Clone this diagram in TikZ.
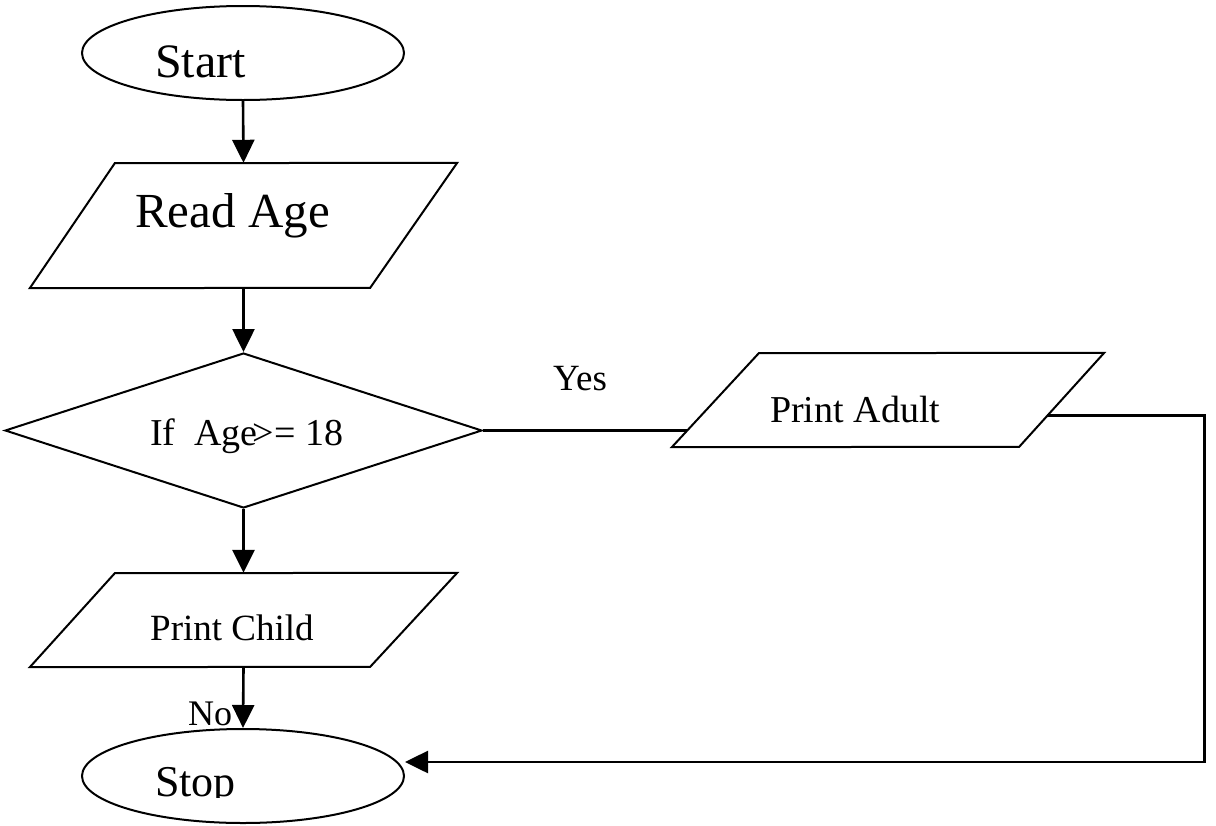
\documentclass[tikz,border=0pt]{standalone}
\usepackage{fontspec}
\setmainfont{Liberation Serif}
\usetikzlibrary{shapes.geometric,arrows.meta,calc}
\begin{document}
\begin{tikzpicture}[x=1pt,y=-1pt,
  outline/.style={draw=black,line width=2pt},
  term/.style={ellipse,outline,minimum width=322pt,minimum height=94pt,inner sep=0pt},
  decide/.style={diamond,outline,minimum width=477pt,minimum height=155pt,inner sep=0pt},
  iobox/.style={rectangle,inner sep=0pt},
  conn/.style={draw=black,line width=2.6pt},
  arr/.style={conn,-{Triangle[length=23pt,width=22pt]}},
  lbl/.style={anchor=base west,inner sep=0pt,text=black},
]
\useasboundingbox (0,0) rectangle (1216,825);
\fill[white] (0,0) rectangle (1216,825);

% shapes
\node[term] (start) at (243,53) {};
\node[iobox,minimum width=427pt,minimum height=125pt] (read) at (243.5,225.5) {};
\draw[outline,line join=miter] (read.south west) -- ++(85,-125) coordinate (readTL) -- (read.north east) -- ++(-87,125) coordinate (readBR) -- cycle;
\node[decide] (dec) at (243.5,430.5) {};
\node[iobox,minimum width=427pt,minimum height=94pt] (child) at (243.5,620) {};
\draw[outline,line join=miter] (child.south west) -- ++(85,-94) coordinate (childTL) -- (child.north east) -- ++(-87,94) coordinate (childBR) -- cycle;
\node[iobox,minimum width=432pt,minimum height=94pt] (adult) at (888,400) {};
\draw[outline,line join=miter] (adult.south west) -- ++(87,-94) coordinate (adultTL) -- (adult.north east) -- ++(-85,94) coordinate (adultBR) -- cycle;
\node[term] (stop) at (243,776) {};

% texts
\node[lbl,font=\fontsize{48}{48}\selectfont] (tstart) at (155,77) {Start};
\node[lbl,font=\fontsize{49}{49}\selectfont] (tread) at (135,227) {Read Age};
\node[lbl,font=\fontsize{38}{38}\selectfont] (tdec) at (150,445) {If\ \ Age\kern-5pt>= 18};
\node[lbl,font=\fontsize{37}{37}\selectfont] (tchild) at (150,640) {Print Child};
\node[lbl,font=\fontsize{38}{38}\selectfont] (tadult) at (770,422) {Print Adult};
\node[lbl,font=\fontsize{37}{37}\selectfont] (tyes) at (553,390) {Yes};
\node[lbl,font=\fontsize{36}{36}\selectfont] (tno) at (188,725) {No};
\begin{scope}
\clip (0,0) rectangle (1216,797);
\node[lbl,font=\fontsize{44}{44}\selectfont] (tstop) at (155,796) {Stop};
\end{scope}

% connection points
\coordinate (yesend) at ($(adult.south west)!0.176!(adultTL)$);
\coordinate (adultR) at ($(adultBR)!0.33!(adult.north east)$);
\coordinate (stopin) at ($(stop.east)+(0,-14)$);

% connectors
\draw[arr] (start.south) -- (read.north);
\draw[arr] (read.south) -- (dec.north);
\draw[arr] (dec.south) -- (child.north);
\draw[arr] (child.south) -- (stop.north);
\draw[conn] (dec.east) -- (dec.east -| yesend);
\draw[arr] (adultR) -- ++(157,0) |- (stopin);
\end{tikzpicture}
\end{document}
